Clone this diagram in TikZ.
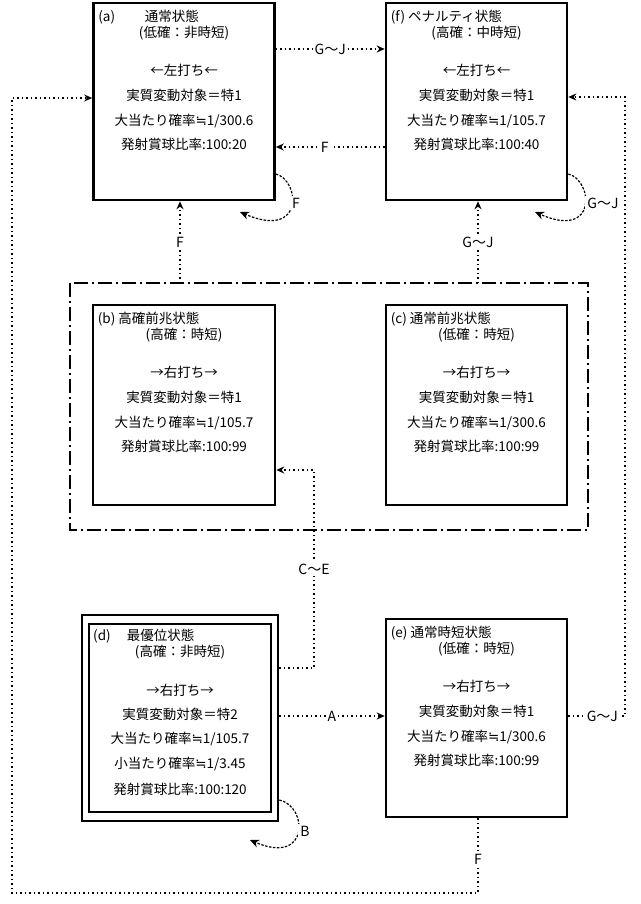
\documentclass[tikz,border=0pt]{standalone}
\usepackage{fontspec}
\setmainfont{Noto Sans CJK JP}
\newfontfamily\symfont{DejaVu Sans}
\newcommand\ap{{\symfont ≒}}
\usetikzlibrary{arrows.meta,calc}
\begin{document}
\begin{tikzpicture}[x=1pt,y=-1pt,
  box/.style={draw,line width=2.6pt,inner sep=0pt},
  txt/.style={inner sep=0pt,font=\fontsize{13.5}{15}\selectfont},
  link/.style={line width=1.5pt,dash pattern=on 1.5pt off 3pt,-{Stealth[length=8pt,width=7pt]}},
  loop/.style={line width=1.2pt,dash pattern=on 2.5pt off 1.5pt,-{Stealth[length=9pt,width=8pt]}},
  lbl/.style={fill=white,inner sep=2pt,font=\fontsize{14}{16}\selectfont}]
\useasboundingbox (0,0) rectangle (640,904);
% state boxes
\node[box,minimum width=181pt,minimum height=197pt] (a) at (184,101.5) {};
\node[box,minimum width=181pt,minimum height=197pt] (f) at (476.5,101.5) {};
\node[box,minimum width=182pt,minimum height=200pt] (b) at (184,405) {};
\node[box,minimum width=181pt,minimum height=200pt] (c) at (476.5,405) {};
\node[box,minimum width=196pt,minimum height=206pt] (d) at (180,718) {};
\draw[line width=2.6pt] (89,624) rectangle (271,812);
\node[box,minimum width=181pt,minimum height=198pt] (e) at (476.5,718) {};
\draw[dash pattern=on 14pt off 4pt on 2pt off 4pt,line width=2.6pt] (70,283) rectangle (588,530);
% texts
\newcommand\statetext[7]{%
  \node[txt,anchor=west] at ($(#1.north west)+(6,15)$) {#2};
  \node[txt] at ($(#1.north)+(0,31)$) {#3};
  \node[txt] at ($(#1.north)+(0,69)$) {#4};
  \node[txt] at ($(#1.north)+(0,94)$) {#5};
  \node[txt] at ($(#1.north)+(0,119)$) {#6};
  \node[txt] at ($(#1.north)+(0,143)$) {#7};}
\statetext{a}{(a)\hspace{2.2em}通常状態}{(低確：非時短)}{←左打ち←}{実質変動対象＝特1}{大当たり確率\ap 1/300.6}{発射賞球比率:100:20}
\statetext{f}{(f)\ ペナルティ状態}{(高確：中時短)}{←左打ち←}{実質変動対象＝特1}{大当たり確率\ap 1/105.7}{発射賞球比率:100:40}
\statetext{b}{(b)\ 高確前兆状態}{(高確：時短)}{→右打ち→}{実質変動対象＝特1}{大当たり確率\ap 1/105.7}{発射賞球比率:100:99}
\statetext{c}{(c)\ 通常前兆状態}{(低確：時短)}{→右打ち→}{実質変動対象＝特1}{大当たり確率\ap 1/300.6}{発射賞球比率:100:99}
\statetext{e}{(e)\ 通常時短状態}{(低確：時短)}{→右打ち→}{実質変動対象＝特1}{大当たり確率\ap 1/300.6}{発射賞球比率:100:99}
\node[txt,anchor=west] at (93,636) {(d)\hspace{1.2em}最優位状態};
\node[txt] at (180,652) {(高確：非時短)};
\node[txt] at (180,690) {→右打ち→};
\node[txt] at (180,714) {実質変動対象＝特2};
\node[txt] at (180,739) {大当たり確率\ap 1/105.7};
\node[txt] at (180,764) {小当たり確率\ap 1/3.45};
\node[txt] at (180,789) {発射賞球比率:100:120};
% transitions
\draw[link] (a.east |- 0,49) -- node[lbl] {G～J} (f.west |- 0,49);
\draw[link] (f.west |- 0,147) -- node[lbl,pos=0.55] {F} (a.east |- 0,147);
\draw[link] (180,283) -- node[lbl] {F} (a.south -| 180,0);
\draw[link] (478,283) -- node[lbl] {G～J} (f.south -| 478,0);
\draw[link] (d.east |- 0,668) -- (314,668) -- node[lbl,pos=0.5] {C～E} (314,470) -- (b.east |- 0,470);
\draw[link] (d.east |- 0,716) -- node[lbl] {A} (e.west |- 0,716);
\draw[link] (e.east |- 0,716) -- node[lbl,pos=0.6] {G～J} (625,716) -- (625,97) -- (f.east |- 0,97);
\draw[link] (e.south -| 478,0) -- node[lbl,pos=0.55] {F} (478,893) -- (12,893) -- (12,98) -- (a.west |- 0,98);
% self loops
\draw[loop] (a.east |- 0,174) .. controls (300,180) and (305,240) .. (240,212);
\node[lbl] at (296,203) {F};
\draw[loop] (f.east |- 0,174) .. controls (593,180) and (598,240) .. (535,212);
\node[lbl] at (603,203) {G～J};
\draw[loop] (d.east |- 0,800) .. controls (308,806) and (310,866) .. (250,840);
\node[lbl] at (305,831) {B};
\end{tikzpicture}
\end{document}
